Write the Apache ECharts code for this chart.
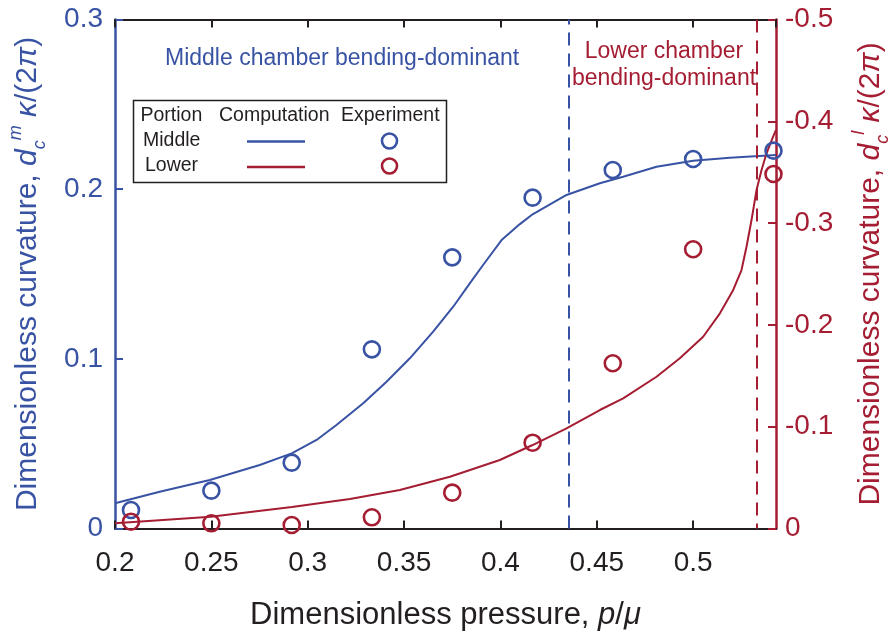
<!DOCTYPE html>
<html>
<head>
<meta charset="utf-8">
<script src="https://cdn.jsdelivr.net/npm/echarts@6/dist/echarts.min.js"></script>
<style>
  html, body { margin: 0; padding: 0; background: #fff; }
  #chart { width: 893px; height: 635px; }
</style>
</head>
<body>
<div id="chart"></div>
<script>
const BLUE = '#3953a4';
const RED = '#a51d32';
const INK = '#231f20';
const FONT = "'Liberation Sans', Arial, Helvetica, sans-serif";

// Experimental measurements (pressure p/mu)
const expPressure = [0.2083, 0.25, 0.2917, 0.3333, 0.375, 0.4167, 0.4583, 0.5, 0.5417];
const expMiddle   = [0.0109, 0.0223, 0.0388, 0.1056, 0.1598, 0.195, 0.2113, 0.2178, 0.2227];
const expLower    = [-0.0067, -0.0051, -0.0034, -0.011, -0.0352, -0.0843, -0.1623, -0.2743, -0.3482];

// Computed curves
const compMiddleP = [0.2, 0.2232, 0.2492, 0.2751, 0.2917, 0.3046, 0.3149, 0.3288, 0.3409, 0.353, 0.3651, 0.3755,
                     0.3841, 0.391, 0.4006, 0.4101, 0.4167, 0.4343, 0.4516, 0.4637, 0.481, 0.5, 0.519, 0.543];
const compMiddle  = [0.0149, 0.0217, 0.0286, 0.0374, 0.0443, 0.0522, 0.061, 0.0738, 0.0865, 0.1003, 0.116, 0.1307,
                     0.1445, 0.1553, 0.17, 0.1794, 0.1852, 0.1966, 0.2035, 0.2073, 0.2132, 0.2168, 0.2185, 0.2201];
const compLowerP  = [0.2, 0.2497, 0.2918, 0.3219, 0.3478, 0.3738, 0.3997, 0.4167, 0.4343, 0.4516, 0.4637, 0.481,
                     0.4931, 0.5052, 0.5139, 0.5208, 0.5251, 0.5277, 0.5303, 0.5329, 0.5355, 0.5381, 0.5415, 0.543];
const compLower   = [-0.0051, -0.0116, -0.0211, -0.029, -0.0378, -0.0509, -0.0673, -0.082, -0.0984, -0.1164, -0.1279, -0.1491,
                     -0.1672, -0.1884, -0.2114, -0.2343, -0.2539, -0.2768, -0.303, -0.3325, -0.3521, -0.3686, -0.3849, -0.3915];

// Regime boundaries
const middleDominantEnd = 0.4354;
const lowerDominantEnd = 0.5332;

// Axis ranges
const xRange = [0.2, 0.543, 0.05];
const yLeftRange = [0, 0.3, 0.1];
const yRightRange = [-0.5, 0, 0.1];

const pairs = (xs, ys) => xs.map((x, i) => [x, ys[i]]);

const chart = echarts.init(document.getElementById('chart'), null, { renderer: 'canvas' });

const titleRich = (color) => ({
  n:   { fontSize: 30, color, fontFamily: FONT },
  i:   { fontSize: 30, color, fontFamily: FONT, fontStyle: 'italic' },
  sub: { fontSize: 18, color, fontFamily: FONT, fontStyle: 'italic', verticalAlign: 'bottom', lineHeight: 42 },
  sup: { fontSize: 18, color, fontFamily: FONT, fontStyle: 'italic', verticalAlign: 'top', lineHeight: 42 }
});

const boundaryLine = (value, color) => ({
  silent: true, symbol: 'none', precision: 4, label: { show: false },
  lineStyle: { color, width: 2, type: [13, 8] },
  data: [{ xAxis: value }]
});

const option = {
  animation: false,
  backgroundColor: '#fff',
  textStyle: { fontFamily: FONT },
  grid: { left: 115, right: 117, top: 19.5, bottom: 106.5, containLabel: false, outerBoundsMode: 'none' },
  xAxis: [
    {
      type: 'value', position: 'bottom',
      min: xRange[0], max: xRange[1], interval: xRange[2],
      axisLine: { show: true, onZero: false, lineStyle: { color: INK, width: 2 } },
      axisTick: { show: true, inside: true, length: 8, lineStyle: { color: INK, width: 2 } },
      axisLabel: { color: INK, fontSize: 28, margin: 21, showMaxLabel: false, fontFamily: FONT },
      splitLine: { show: false },
      name: '{n|Dimensionless pressure, }{i|p}{n|/}{i|μ}',
      nameLocation: 'middle', nameGap: 71,
      nameTextStyle: {
        rich: {
          n: { fontSize: 31, color: INK, fontFamily: FONT },
          i: { fontSize: 31, color: INK, fontFamily: FONT, fontStyle: 'italic' }
        }
      }
    },
    {
      type: 'value', position: 'top',
      min: xRange[0], max: xRange[1], interval: xRange[2],
      axisLine: { show: true, onZero: false, lineStyle: { color: INK, width: 2 } },
      axisTick: { show: true, inside: true, length: 8, lineStyle: { color: INK, width: 2 } },
      axisLabel: { show: false },
      splitLine: { show: false }
    }
  ],
  yAxis: [
    {
      type: 'value', position: 'left',
      min: yLeftRange[0], max: yLeftRange[1], interval: yLeftRange[2],
      axisLine: { show: true, onZero: false, lineStyle: { color: BLUE, width: 2.5 } },
      axisTick: { show: true, inside: true, length: 8, lineStyle: { color: BLUE, width: 2 } },
      axisLabel: { color: BLUE, fontSize: 28, margin: 12, fontFamily: FONT },
      splitLine: { show: false },
      name: '{n|Dimensionless curvature, }{i|d}{sub|c}{sup|m}{n| }{i|κ}{n|/(2}{i|π}{n|)}',
      nameLocation: 'middle', nameRotate: 90, nameGap: 66,
      nameTextStyle: { rich: titleRich(BLUE) }
    },
    {
      type: 'value', position: 'right', inverse: true,
      min: yRightRange[0], max: yRightRange[1], interval: yRightRange[2],
      axisLine: { show: true, onZero: false, lineStyle: { color: RED, width: 2.5 } },
      axisTick: { show: true, inside: true, length: 8, lineStyle: { color: RED, width: 2 } },
      axisLabel: { color: RED, fontSize: 28, margin: 9, fontFamily: FONT },
      splitLine: { show: false },
      name: '{n|Dimensionless curvature, }{i|d}{sub|c}{sup|l}{n| }{i|κ}{n|/(2}{i|π}{n|)}',
      nameLocation: 'middle', nameRotate: 90, nameGap: 74,
      nameTextStyle: { rich: titleRich(RED) }
    }
  ],
  series: [
    {
      name: 'Middle computation', type: 'line', xAxisIndex: 0, yAxisIndex: 0,
      data: pairs(compMiddleP, compMiddle),
      smooth: false, showSymbol: false,
      lineStyle: { color: BLUE, width: 2 },
      z: 3,
      markLine: boundaryLine(middleDominantEnd, BLUE)
    },
    {
      name: 'Lower computation', type: 'line', xAxisIndex: 0, yAxisIndex: 1,
      data: pairs(compLowerP, compLower),
      smooth: false, showSymbol: false,
      lineStyle: { color: RED, width: 2 },
      z: 3,
      markLine: boundaryLine(lowerDominantEnd, RED)
    },
    {
      name: 'Middle experiment', type: 'scatter', xAxisIndex: 0, yAxisIndex: 0,
      data: pairs(expPressure, expMiddle),
      symbol: 'circle', symbolSize: 16,
      itemStyle: { color: 'rgba(0,0,0,0)', borderColor: BLUE, borderWidth: 2.6, opacity: 1 },
      z: 4
    },
    {
      name: 'Lower experiment', type: 'scatter', xAxisIndex: 0, yAxisIndex: 1,
      data: pairs(expPressure, expLower),
      symbol: 'circle', symbolSize: 16,
      itemStyle: { color: 'rgba(0,0,0,0)', borderColor: RED, borderWidth: 2.6, opacity: 1 },
      z: 4
    }
  ],
  graphic: [
    {
      type: 'text', left: 165, top: 47, z: 10,
      style: { text: 'Middle chamber bending-dominant', fill: BLUE, font: '23px ' + FONT }
    },
    {
      type: 'text', x: 664, y: 38, z: 10,
      style: { text: 'Lower chamber\nbending-dominant', fill: RED, font: '23px ' + FONT,
               align: 'center', lineHeight: 27 }
    },
    {
      type: 'group', z: 10,
      children: [
        { type: 'rect', shape: { x: 133.5, y: 100.5, width: 313, height: 82 },
          style: { fill: '#fff', stroke: INK, lineWidth: 1.5 } },
        { type: 'text', x: 140.5, y: 116, style: { text: 'Portion', fill: INK, font: '19.5px ' + FONT, verticalAlign: 'middle' } },
        { type: 'text', x: 219, y: 116, style: { text: 'Computation', fill: INK, font: '19.5px ' + FONT, verticalAlign: 'middle' } },
        { type: 'text', x: 341, y: 116, style: { text: 'Experiment', fill: INK, font: '19.5px ' + FONT, verticalAlign: 'middle' } },
        { type: 'text', x: 143, y: 141, style: { text: 'Middle', fill: INK, font: '19.5px ' + FONT, verticalAlign: 'middle' } },
        { type: 'text', x: 145, y: 165.5, style: { text: 'Lower', fill: INK, font: '19.5px ' + FONT, verticalAlign: 'middle' } },
        { type: 'line', shape: { x1: 247, y1: 141.5, x2: 305, y2: 141.5 }, style: { stroke: BLUE, lineWidth: 2.5 } },
        { type: 'line', shape: { x1: 247, y1: 167, x2: 305, y2: 167 }, style: { stroke: RED, lineWidth: 2.5 } },
        { type: 'circle', shape: { cx: 389.5, cy: 141, r: 7.5 }, style: { fill: 'none', stroke: BLUE, lineWidth: 2.6 } },
        { type: 'circle', shape: { cx: 389.5, cy: 166, r: 7.5 }, style: { fill: 'none', stroke: RED, lineWidth: 2.6 } }
      ]
    }
  ]
};

chart.setOption(option);
</script>
</body>
</html>
